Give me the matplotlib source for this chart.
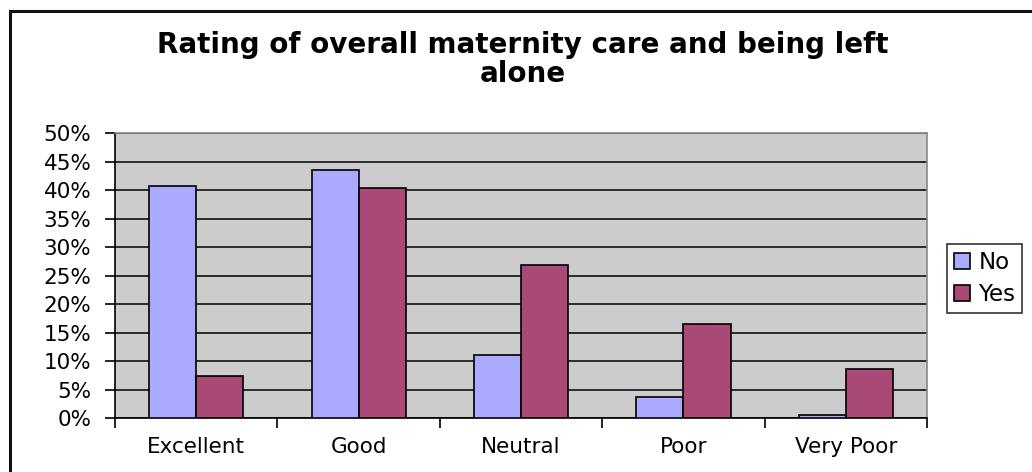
import numpy as np
import matplotlib.pyplot as plt
from matplotlib.patches import Rectangle
from matplotlib.ticker import MultipleLocator, FuncFormatter

# Share of respondents per rating, split by whether they were left alone
ratings = ['Excellent', 'Good', 'Neutral', 'Poor', 'Very Poor']
left_alone_no = [40.8, 43.5, 11.0, 3.6, 0.5]
left_alone_yes = [7.4, 40.4, 26.8, 16.5, 8.6]
series_names = ['No', 'Yes']

plt.rcParams['font.family'] = ['DejaVu Sans']

fig = plt.figure(figsize=(10.32, 4.72), dpi=100)
ax = fig.add_axes([0.1114, 0.1144, 0.787, 0.6035])

# outer chart border
fig.patches.append(Rectangle((0.0097, -0.05), 1.2, 1.027, transform=fig.transFigure,
                             fill=False, edgecolor='#111111', linewidth=2.2))

x = np.arange(len(ratings))
w = 0.29
ax.bar(x - w / 2, left_alone_no, w, color='#AAAAFF', edgecolor='black', linewidth=1.2,
       label=series_names[0], zorder=3)
ax.bar(x + w / 2, left_alone_yes, w, color='#A94A76', edgecolor='black', linewidth=1.2,
       label=series_names[1], zorder=3)

ax.set_facecolor('#CCCCCC')
ax.set_ylim(0, 50)
ax.set_xlim(-0.5, len(ratings) - 0.5)
ax.yaxis.set_major_locator(MultipleLocator(5))
ax.yaxis.set_major_formatter(FuncFormatter(lambda v, p: f'{v:.0f}%'))
ax.grid(axis='y', color='black', linewidth=1.1, zorder=1)
ax.set_axisbelow(True)

# category labels centred, tick marks on the boundaries
ax.set_xticks(x)
ax.set_xticklabels(ratings, fontsize=15.5)
ax.tick_params(axis='x', which='major', length=0, pad=14)
ax.set_xticks(np.arange(len(ratings) + 1) - 0.5, minor=True)
ax.tick_params(axis='x', which='minor', length=7, width=1.2, direction='out')
ax.tick_params(axis='y', length=7, width=1.2, labelsize=15.5, pad=10)

for side in ['top', 'right']:
    ax.spines[side].set_color('#888888')
    ax.spines[side].set_linewidth(1.2)
for side in ['left', 'bottom']:
    ax.spines[side].set_color('black')
    ax.spines[side].set_linewidth(1.2)

fig.text(0.507, 0.874, 'Rating of overall maternity care and being left\nalone',
         ha='center', va='center', fontsize=20, fontweight='bold', linespacing=1.05)

leg = ax.legend(loc='center left', bbox_to_anchor=(1.025, 0.49), fontsize=16.5,
                frameon=True, fancybox=False, edgecolor='black', handlelength=0.7,
                handleheight=0.7, handletextpad=0.35, borderpad=0.3, labelspacing=0.4,
                borderaxespad=0)
leg.get_frame().set_linewidth(1.2)

fig.savefig('out.png', dpi=100)
